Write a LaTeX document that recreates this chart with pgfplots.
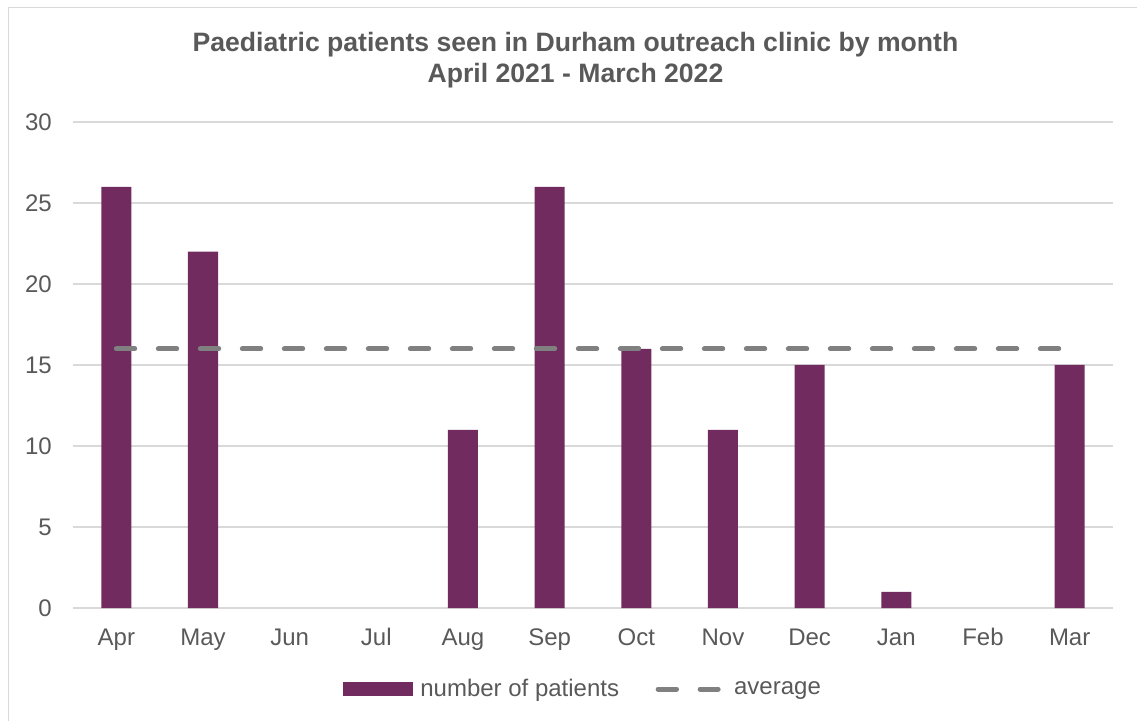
\documentclass[border=0pt]{standalone}
\usepackage{fontspec}
\setmainfont{Liberation Sans}
\usepackage{pgfplots}
\pgfplotsset{compat=1.18}
\definecolor{barpurple}{HTML}{722B5F}
\definecolor{avggray}{HTML}{808080}
\definecolor{txtgray}{HTML}{595959}
\definecolor{gridgray}{HTML}{D9D9D9}
\begin{document}
\begin{tikzpicture}[x=1pt,y=1pt]
\path[use as bounding box] (0,0) rectangle (1137,720);
% chart frame
\draw[gridgray, line width=1.5pt] (8.5,-10) -- (8.5,712.5) -- (1150,712.5);
% title
\node[anchor=base, font=\fontsize{26.6}{32}\selectfont\bfseries, text=txtgray, inner sep=0pt]
  at (575.5,668) {Paediatric patients seen in Durham outreach clinic by month};
\node[anchor=base, font=\fontsize{26.6}{32}\selectfont\bfseries, text=txtgray, inner sep=0pt]
  at (575.5,637) {April 2021 - March 2022};
\begin{axis}[
  at={(73pt,112pt)}, anchor=south west, scale only axis,
  width=1040pt, height=486pt,
  xmin=-0.5, xmax=11.5, ymin=0, ymax=30,
  xtick={0,...,11},
  xticklabels={Apr,May,Jun,Jul,Aug,Sep,Oct,Nov,Dec,Jan,Feb,Mar},
  ytick={0,5,...,30},
  major tick length=0pt,
  axis line style={draw=none},
  ymajorgrids, grid style={gridgray, line width=1.3pt},
  tick label style={font=\fontsize{24}{28}\selectfont, text=txtgray},
  xticklabel style={anchor=base, inner sep=0pt, yshift=-37pt},
  yticklabel style={anchor=east, inner sep=0pt, xshift=-21pt},
  /pgf/number format/assume math mode=true,
  legend columns=2,
  legend style={draw=none, fill=none, at={(0.4905,-0.1667)}, anchor=center,
    font=\fontsize{24}{28}\selectfont, text=txtgray,
    /tikz/every odd column/.append style={column sep=5pt},
    /tikz/every even column/.append style={column sep=32pt}},
  legend cell align=left,
]
% months with no patients (Jun, Jul, Feb) have no bar
\addplot[ybar, bar width=30pt, fill=barpurple, draw=none,
  legend image code/.code={\fill[barpurple] (0pt,-7pt) rectangle (70pt,7pt);}]
  coordinates {(0,26) (1,22) (4,11) (5,26) (6,16) (7,11) (8,15) (9,1) (11,15)};
\addlegendentry{number of patients}
\addplot[avggray, line width=5pt, line cap=round, dash pattern=on 18.4pt off 23.6pt,
  legend image code/.code={\draw[avggray, line width=5pt, line cap=round, dash pattern=on 18.4pt off 23.6pt] (2.5pt,0pt) -- (62.5pt,0pt);
    \path (0pt,0pt) (69pt,0pt);}]
  coordinates {(0,16) (11,16)};
\addlegendentry{average}
\end{axis}
\end{tikzpicture}
\end{document}
